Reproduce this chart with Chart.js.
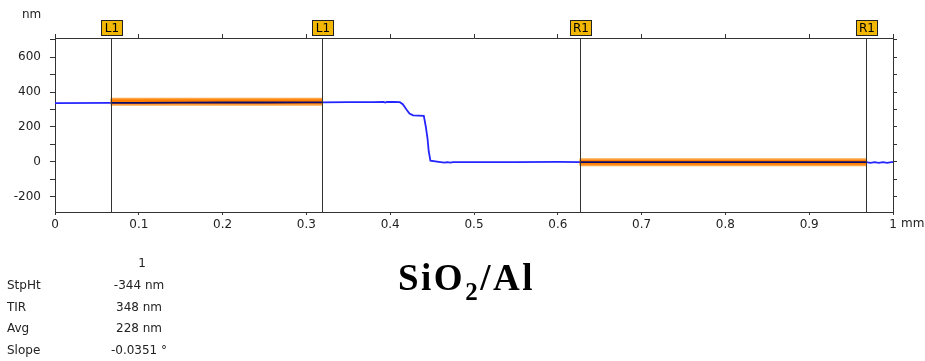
<!DOCTYPE html>
<html>
<head>
<meta charset="utf-8">
<script src="https://cdn.jsdelivr.net/npm/chart.js@4/dist/chart.umd.min.js"></script>
<style>
  body { margin: 0; background: #fff; }
  #wrap { position: relative; width: 925px; height: 361px; overflow: hidden; font-family: "DejaVu Sans", sans-serif; color: #222; }
  canvas { position: absolute; left: 0; top: 0; }
  .t { position: absolute; white-space: nowrap; font-size: 12px; line-height: 14px; }
  .c { transform: translateX(-50%); }
  #title { position: absolute; left: 398px; top: 259px; font-family: "Liberation Serif", "Times New Roman", serif; font-weight: bold; font-size: 37px; line-height: 37px; letter-spacing: 2.5px; color: #000; white-space: nowrap; }
  #title sub { font-size: 25px; vertical-align: -10px; line-height: 0; }
</style>
</head>
<body>
<div id="wrap">
  <canvas id="c" width="925" height="361"></canvas>
  <div class="t" style="left:22px;top:7px;">nm</div>
  <div class="t" style="left:901px;top:216px;">mm</div>
  <div id="stats"></div>
  <div id="title">SiO<sub>2</sub>/Al</div>
</div>
<script>
// ---- data ----
const profileX = [0, 0.0664, 0.1, 0.15, 0.2, 0.25, 0.3, 0.3186, 0.35, 0.38, 0.392, 0.394, 0.396, 0.404,
  0.4115, 0.415, 0.4194, 0.423, 0.4273, 0.4401, 0.4425, 0.4445, 0.446, 0.448, 0.46, 0.465, 0.468, 0.472,
  0.475, 0.5, 0.55, 0.6, 0.626, 0.7, 0.8, 0.9, 0.968, 0.973, 0.978, 0.983, 0.988, 0.993, 0.998, 1.0];
const profileY = [337, 338, 338, 339, 340, 340, 341, 341, 342, 342, 343, 340, 343, 343,
  342, 330, 300, 277, 266, 264, 201, 135, 59, 6, -2, -5, -2, -5,
  -2, -2, -2, -1, -2, -2, -2, -2, -2, -6, -2, -6, -2, -6, -2, -2];
const cursorX = [0.0664, 0.3186, 0.626, 0.968];
const cursorLabels = ['L1', 'L1', 'R1', 'R1'];
const bandLevels = [344, -2];           // fitted level in L1 and R1 regions (nm)
const xTickValues = [0, 0.1, 0.2, 0.3, 0.4, 0.5, 0.6, 0.7, 0.8, 0.9, 1];
const xTickLabels = ['0', '0.1', '0.2', '0.3', '0.4', '0.5', '0.6', '0.7', '0.8', '0.9', '1'];
const yTickValues = [-200, -100, 0, 100, 200, 300, 400, 500, 600, 700];
const yLabelValues = [-200, 0, 200, 400, 600];
const yMin = -288, yMax = 710;
const statHeader = '1';
const statNames = ['StpHt', 'TIR', 'Avg', 'Slope'];
const statValues = ['-344 nm', '348 nm', '228 nm', '-0.0351 °'];

// ---- stats text ----
(function () {
  const s = document.getElementById('stats');
  const rowsY = [256, 278, 300, 321, 343];
  let h = document.createElement('div');
  h.className = 't c'; h.style.left = '142px'; h.style.top = rowsY[0] + 'px'; h.textContent = statHeader;
  s.appendChild(h);
  statNames.forEach((n, i) => {
    const a = document.createElement('div');
    a.className = 't'; a.style.left = '7px'; a.style.top = rowsY[i + 1] + 'px'; a.textContent = n;
    s.appendChild(a);
    const b = document.createElement('div');
    b.className = 't c'; b.style.left = '139px'; b.style.top = rowsY[i + 1] + 'px'; b.textContent = statValues[i];
    s.appendChild(b);
  });
})();

// ---- chart ----
const inRegion = (a, b) => (a >= cursorX[0] - 1e-9 && b <= cursorX[1] + 1e-9) || (a >= cursorX[2] - 1e-9 && b <= cursorX[3] + 1e-9);
const pts = profileX.map((x, i) => ({ x: x, y: profileY[i] }));
const bandL = [{ x: cursorX[0], y: bandLevels[0] }, { x: cursorX[1], y: bandLevels[0] }];
const bandR = [{ x: cursorX[2], y: bandLevels[1] }, { x: cursorX[3], y: bandLevels[1] }];

const cursorPlugin = {
  id: 'cursors',
  afterDatasetsDraw(chart) {
    const { ctx, chartArea: a, scales: { x } } = chart;
    ctx.save();
    ctx.strokeStyle = '#333'; ctx.lineWidth = 1;
    cursorX.forEach(v => {
      const px = Math.round(x.getPixelForValue(v)) + 0.5;
      ctx.beginPath(); ctx.moveTo(px, a.top); ctx.lineTo(px, a.bottom); ctx.stroke();
    });
    ctx.restore();
  },
  afterDraw(chart) {
    const { ctx, scales: { x } } = chart;
    ctx.save();
    cursorX.forEach((v, i) => {
      const px = Math.round(x.getPixelForValue(v));
      const l = px - 10 + 0.5, t = 20.5, w = 21, h = 15;
      ctx.fillStyle = '#F2B705';
      ctx.fillRect(l, t, w, h);
      ctx.strokeStyle = '#222'; ctx.lineWidth = 1;
      ctx.strokeRect(l, t, w, h);
      ctx.fillStyle = '#000';
      ctx.font = '12px "DejaVu Sans"';
      ctx.textAlign = 'center'; ctx.textBaseline = 'middle';
      ctx.fillText(cursorLabels[i], l + w / 2, t + h / 2 + 0.5);
    });
    ctx.restore();
  }
};

const tickFont = { family: 'DejaVu Sans', size: 12 };
new Chart(document.getElementById('c'), {
  type: 'line',
  data: {
    datasets: [
      { data: pts, borderWidth: 1.8, borderColor: '#2424ff', pointRadius: 0, tension: 0,
        segment: { borderColor: c => inRegion(c.p0.parsed.x, c.p1.parsed.x) ? '#0c0c70' : '#2424ff' } },
      { data: bandL, borderWidth: 5, borderColor: '#ff7f00', pointRadius: 0 },
      { data: bandR, borderWidth: 5, borderColor: '#ff7f00', pointRadius: 0 },
      { data: bandL, borderWidth: 8, borderColor: '#ffa748', pointRadius: 0 },
      { data: bandR, borderWidth: 8, borderColor: '#ffa748', pointRadius: 0 }
    ]
  },
  options: {
    responsive: false, animation: false, devicePixelRatio: 1,
    layout: { padding: 0 },
    plugins: { legend: { display: false }, tooltip: { enabled: false } },
    scales: {
      x: {
        type: 'linear', position: 'bottom', min: 0, max: 1,
        afterBuildTicks: s => { s.ticks = xTickValues.map(v => ({ value: v })); },
        afterFit: s => { s.height = 149; },
        ticks: { autoSkip: false, maxRotation: 0, padding: 3, font: tickFont, color: '#222',
          callback: (v) => { const i = xTickValues.indexOf(v); return i >= 0 ? xTickLabels[i] : ''; } },
        grid: { drawOnChartArea: false, tickLength: 3, tickColor: '#333' },
        border: { color: '#333', width: 1 }
      },
      xTop: {
        type: 'linear', position: 'top', min: 0, max: 1,
        afterBuildTicks: s => { s.ticks = xTickValues.map(v => ({ value: v })); },
        afterFit: s => { s.height = 38; },
        ticks: { display: false },
        grid: { drawOnChartArea: false, tickLength: 4, tickColor: '#333' },
        border: { color: '#333', width: 1 }
      },
      y: {
        type: 'linear', position: 'left', min: yMin, max: yMax,
        afterBuildTicks: s => { s.ticks = yTickValues.map(v => ({ value: v })); },
        afterFit: s => { s.width = 55; },
        ticks: { autoSkip: false, padding: 9, font: tickFont, color: '#222',
          callback: v => yLabelValues.includes(v) ? String(v) : '' },
        grid: { drawOnChartArea: false, tickLength: 5, tickColor: '#333' },
        border: { color: '#333', width: 1 }
      },
      yRight: {
        type: 'linear', position: 'right', min: yMin, max: yMax,
        afterBuildTicks: s => { s.ticks = yTickValues.map(v => ({ value: v })); },
        afterFit: s => { s.width = 32; },
        ticks: { display: false },
        grid: { drawOnChartArea: false, tickLength: 4, tickColor: '#333' },
        border: { color: '#333', width: 1 }
      }
    }
  },
  plugins: [cursorPlugin]
});
</script>
</body>
</html>
